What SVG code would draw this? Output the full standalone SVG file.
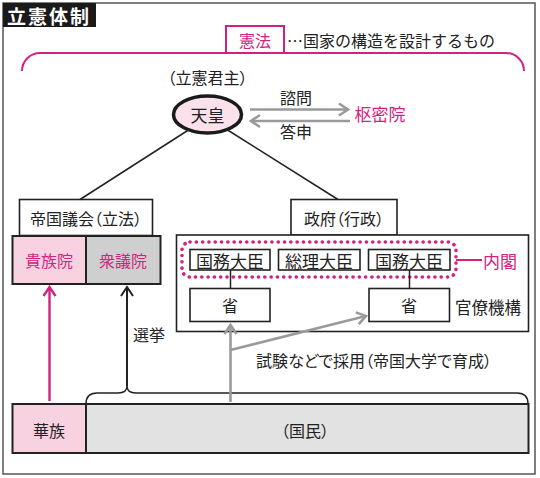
<svg xmlns="http://www.w3.org/2000/svg" width="540" height="478" viewBox="0 0 540 478">
<style>
text{font-family:"Noto Sans CJK JP","Noto Sans",sans-serif;font-size:16px;fill:#222;dominant-baseline:central;text-anchor:middle}
.p{fill:#d2237c}
.palt{font-feature-settings:"palt"}
.box{fill:#fff;stroke:#222;stroke-width:1.6}
.thick{stroke-width:2}
.ln{fill:none;stroke:#222;stroke-width:1.5}
.ga{fill:none;stroke:#9a9a9a;stroke-width:2.6}
</style>
<defs>
<marker id="ah-g" markerUnits="userSpaceOnUse" viewBox="-12 -8 14 16" refX="0" refY="0" markerWidth="14" markerHeight="16" orient="auto"><path d="M-9,-6 L0,0 L-9,6" fill="none" stroke="#9a9a9a" stroke-width="2.6"/></marker>
<marker id="ah-k" markerUnits="userSpaceOnUse" viewBox="-12 -8 14 16" refX="0" refY="0" markerWidth="14" markerHeight="16" orient="auto"><path d="M-9,-6 L0,0 L-9,6" fill="none" stroke="#222" stroke-width="2"/></marker>
<marker id="ah-p" markerUnits="userSpaceOnUse" viewBox="-12 -8 14 16" refX="0" refY="0" markerWidth="14" markerHeight="16" orient="auto"><path d="M-9,-6 L0,0 L-9,6" fill="none" stroke="#d2237c" stroke-width="2.4"/></marker>
</defs>
<rect x="0" y="0" width="540" height="478" fill="#fff"/>
<rect x="3" y="3" width="532" height="471" fill="#fff" stroke="#555" stroke-width="1.5"/>
<g id="title">
<rect x="3" y="3" width="93" height="24" fill="#1a1a1a"/>
<text x="49" y="15.5" style="fill:#fff;font-weight:700;font-size:19px;letter-spacing:2px">立憲体制</text>
</g>
<g id="kenpo">
<path d="M22,71 A18,18 0 0 1 40,53 H506 A18,18 0 0 1 524,71" fill="none" stroke="#d2237c" stroke-width="2"/>
<rect x="226" y="26" width="58" height="27" fill="#fff" stroke="#d2237c" stroke-width="2"/>
<text x="255" y="40" class="p">憲法</text>
<text x="287" y="40" style="text-anchor:start">…国家の構造を設計するもの</text>
</g>
<g id="tenno">
<text x="207.5" y="77" class="palt">（立憲君主）</text>
<ellipse cx="207.5" cy="114.5" rx="34" ry="18.5" fill="#fbe1eb" stroke="#1a1a1a" stroke-width="3.5"/>
<text x="207.5" y="114.5" style="font-size:17px">天皇</text>
</g>
<g id="sumitsuin">
<text x="380" y="113.5" class="p" style="font-size:17px">枢密院</text>
</g>
<g id="gikai">
<rect x="19.5" y="199.5" width="133" height="36" class="box"/>
<text x="86" y="217.5" class="palt">帝国議会（立法）</text>
</g>
<g id="kizokuin">
<rect x="12.5" y="236" width="73.5" height="48" fill="#f8d2e1" stroke="#222" stroke-width="2"/>
<text x="49" y="260" class="p">貴族院</text>
</g>
<g id="shugiin">
<rect x="86" y="236" width="74.5" height="48" fill="#cfcfcf" stroke="#222" stroke-width="2"/>
<text x="123" y="260" class="p">衆議院</text>
</g>
<g id="seifu">
<rect x="291" y="199.5" width="106" height="35.5" class="box"/>
<text x="344" y="217.5" class="palt">政府（行政）</text>
</g>
<g id="gyosei">
<rect x="176.5" y="235" width="352" height="96.5" class="box" stroke-width="1.8"/>
</g>
<g id="naikaku">
<rect x="182" y="242" width="274" height="35" rx="8" fill="none" stroke="#d2237c" stroke-width="3.6" stroke-dasharray="0.1 6.2" stroke-linecap="round"/>
<line x1="456" y1="260" x2="482" y2="260" stroke="#d2237c" stroke-width="2"/>
<text x="500" y="260" class="p" style="font-size:17px">内閣</text>
</g>
<g id="kokumu1">
<rect x="190" y="249.5" width="80" height="20.5" class="box"/>
<text x="230" y="260" style="font-size:17px">国務大臣</text>
</g>
<g id="sori">
<rect x="278.5" y="249.5" width="81.5" height="20.5" class="box"/>
<text x="319" y="260" style="font-size:17px">総理大臣</text>
</g>
<g id="kokumu2">
<rect x="368.5" y="249.5" width="81.5" height="20.5" class="box"/>
<text x="409" y="260" style="font-size:17px">国務大臣</text>
</g>
<g id="sho1">
<rect x="190" y="288.5" width="80" height="33" class="box"/>
<text x="230" y="305">省</text>
</g>
<g id="sho2">
<rect x="369" y="288.5" width="80.5" height="33" class="box"/>
<text x="409" y="305">省</text>
</g>
<g id="kanryo">
<text x="488" y="307" style="font-size:16.5px">官僚機構</text>
</g>
<g id="kazoku">
<rect x="12.5" y="404" width="73.5" height="49" fill="#f8d2e1" stroke="#222" stroke-width="2"/>
<text x="49" y="430">華族</text>
</g>
<g id="kokumin">
<rect x="86" y="404" width="442.5" height="49" fill="#e2e2e2" stroke="#222" stroke-width="2"/>
<text x="305" y="430" class="palt">（国民）</text>
</g>
<g id="connectors">
<line x1="190" y1="129" x2="80" y2="199.5" class="ln"/>
<line x1="226" y1="129" x2="338" y2="199.5" class="ln"/>
<line x1="250" y1="109.5" x2="348" y2="109.5" class="ga" marker-end="url(#ah-g)"/>
<line x1="350" y1="121" x2="251" y2="121" class="ga" marker-end="url(#ah-g)"/>
<text x="296" y="96.5">諮問</text>
<text x="296" y="130.5">答申</text>
<line x1="230.5" y1="270" x2="230.5" y2="288.5" class="ln"/>
<line x1="409.5" y1="270" x2="409.5" y2="288.5" class="ln"/>
<line x1="49.5" y1="401" x2="49.5" y2="287" fill="none" stroke="#d2237c" stroke-width="2.4" marker-end="url(#ah-p)"/>
<path d="M86,404 Q86,393 97,393 H118 Q127,393 127,386 Q127,393 136,393 H517 Q528,393 528,404" class="ln"/>
<line x1="127" y1="386" x2="127" y2="287" stroke="#222" stroke-width="2" marker-end="url(#ah-k)"/>
<text x="149" y="333.5">選挙</text>
<line x1="230.5" y1="402" x2="230.5" y2="325" class="ga" marker-end="url(#ah-g)"/>
<line x1="230.5" y1="350" x2="366" y2="316" class="ga" marker-end="url(#ah-g)"/>
<text x="374" y="359.5" class="palt">試験などで採用（帝国大学で育成）</text>
</g>
</svg>
